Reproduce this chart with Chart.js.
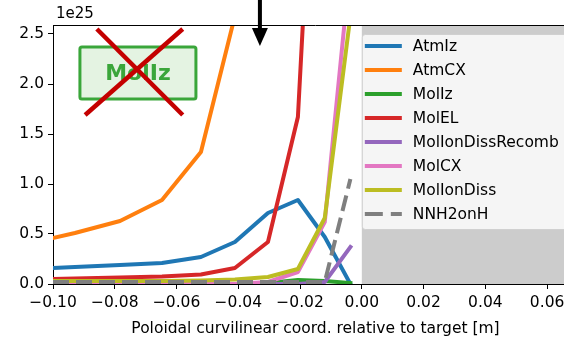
<!DOCTYPE html>
<html>
<head>
<meta charset="utf-8">
<script src="https://cdn.jsdelivr.net/npm/chart.js@4.4.1/dist/chart.umd.min.js"></script>
<style>
  html, body { margin: 0; padding: 0; background: #fff; overflow: hidden; }
  #wrap { width: 600px; height: 338px; }
</style>
</head>
<body>
<div id="wrap"><canvas id="c" width="600" height="338"></canvas></div>
<script>
// Poloidal position of each cell centre relative to the target [m]
const positions = [-0.1, -0.0929, -0.0783, -0.0647, -0.0521, -0.0411, -0.0304, -0.0207, -0.0120, -0.0037];

// Rates, in units of 1e25
const atmIz            = [0.16, 0.17, 0.19, 0.21, 0.27, 0.42, 0.71, 0.84, 0.47, 0.0];
const atmCX            = [0.46, 0.51, 0.63, 0.84, 1.32, 2.68, 5.5, 9.0, 12.0, 14.0];
const molIz            = [0.0, 0.0, 0.0, 0.0, 0.0, 0.0, 0.01, 0.04, 0.03, 0.01];
const molEL            = [0.05, 0.055, 0.065, 0.075, 0.095, 0.16, 0.42, 1.67, 6.7, 9.0];
const molIonDissRecomb = [0.0, 0.0, 0.0, 0.0, 0.0, 0.0, 0.0, 0.0, 0.02, 0.37];
const molCX            = [0.0, 0.0, 0.0, 0.0, 0.0, 0.0, 0.02, 0.12, 0.62, 3.2];
const molIonDiss       = [0.03, 0.03, 0.03, 0.03, 0.035, 0.045, 0.07, 0.15, 0.66, 2.68];
const nnH2onH          = [0.02, 0.02, 0.02, 0.02, 0.02, 0.02, 0.02, 0.02, 0.02, 1.05];

const seriesNames = ['AtmIz', 'AtmCX', 'MolIz', 'MolEL', 'MolIonDissRecomb', 'MolCX', 'MolIonDiss', 'NNH2onH'];
const seriesValues = [atmIz, atmCX, molIz, molEL, molIonDissRecomb, molCX, molIonDiss, nnH2onH];
const seriesColors = ['#1f77b4', '#ff7f0e', '#2ca02c', '#d62728', '#9467bd', '#e377c2', '#bcbd22', '#7f7f7f'];
const seriesDash = [[], [], [], [], [], [], [], [16, 7]];

const xTicks = [-0.10, -0.08, -0.06, -0.04, -0.02, 0.00, 0.02, 0.04, 0.06];
const yTicks = [0.0, 0.5, 1.0, 1.5, 2.0, 2.5];
const X_MIN = -0.1, X_MAX = 0.07, Y_MIN = 0, Y_MAX = 2.59;

// Annotation anchors (data coordinates)
const ARROW_X = -0.033, ARROW_TIP_Y = 2.38;
const BOX_CX = -0.0725, BOX_CY = 2.11;
const CROSS_A = [[-0.0858, 2.55], [-0.0580, 1.69]];
const CROSS_B = [[-0.0580, 2.55], [-0.0896, 1.69]];

const FONT = '"DejaVu Sans", sans-serif';

// later series are painted over earlier ones
const datasets = seriesNames.map((name, i) => ({
  label: name,
  order: seriesNames.length - i,
  data: positions.map((x, j) => ({ x: x, y: seriesValues[i][j] })),
  borderColor: seriesColors[i],
  backgroundColor: seriesColors[i],
  borderWidth: 4,
  borderDash: seriesDash[i],
  borderCapStyle: seriesDash[i].length ? 'butt' : 'square',
  borderJoinStyle: 'round',
  pointRadius: 0,
  tension: 0,
  fill: false,
  clip: 0
}));

const decorations = {
  id: 'decorations',
  beforeDraw(chart) {
    const { ctx, chartArea: a, scales: { x } } = chart;
    ctx.save();
    const x0 = x.getPixelForValue(0);
    ctx.fillStyle = '#cccccc';
    ctx.fillRect(x0, a.top, a.right - x0, a.bottom - a.top);
    ctx.restore();
  },
  afterDraw(chart) {
    const { ctx, chartArea: a, scales: { x, y } } = chart;
    ctx.save();
    // top spine
    ctx.strokeStyle = '#000';
    ctx.lineWidth = 1;
    ctx.beginPath();
    ctx.moveTo(a.left, a.top + 0.5);
    ctx.lineTo(a.right, a.top + 0.5);
    ctx.stroke();

    // offset label
    ctx.fillStyle = '#000';
    ctx.font = '15px ' + FONT;
    ctx.textAlign = 'left';
    ctx.textBaseline = 'middle';
    ctx.fillText('1e25', a.left + 3, 14);

    // legend
    const lx = x.getPixelForValue(0), ly = a.top + 9, lw = 215, lh = 195;
    ctx.fillStyle = 'rgba(255,255,255,0.8)';
    ctx.strokeStyle = 'rgba(204,204,204,0.8)';
    ctx.lineWidth = 1;
    ctx.beginPath();
    ctx.roundRect(lx + 0.5, ly + 0.5, lw, lh, 3);
    ctx.fill();
    ctx.stroke();
    ctx.font = '15.5px ' + FONT;
    ctx.textBaseline = 'middle';
    seriesNames.forEach((name, i) => {
      const ry = ly + 12 + i * 24;
      ctx.strokeStyle = seriesColors[i];
      ctx.lineWidth = 4;
      ctx.lineCap = 'butt';
      ctx.setLineDash(seriesDash[i].length ? [18, 8] : []);
      ctx.beginPath();
      ctx.moveTo(lx + 3, ry);
      ctx.lineTo(lx + 40, ry);
      ctx.stroke();
      ctx.setLineDash([]);
      ctx.fillStyle = '#000';
      ctx.fillText(name, lx + 51, ry + 1);
    });

    // labelled box with a cross over it
    const bx = x.getPixelForValue(BOX_CX), by = y.getPixelForValue(BOX_CY);
    ctx.fillStyle = '#e4f3e2';
    ctx.strokeStyle = '#3aa63a';
    ctx.lineWidth = 3;
    ctx.beginPath();
    ctx.roundRect(bx - 58, by - 26, 116, 52, 2);
    ctx.fill();
    ctx.stroke();
    ctx.fillStyle = '#3aa63a';
    ctx.font = 'bold 22px ' + FONT;
    ctx.textAlign = 'center';
    ctx.textBaseline = 'middle';
    ctx.fillText('MolIz', bx, by + 1);

    ctx.strokeStyle = '#c40000';
    ctx.lineWidth = 4.5;
    ctx.lineCap = 'butt';
    [CROSS_A, CROSS_B].forEach(seg => {
      ctx.beginPath();
      ctx.moveTo(x.getPixelForValue(seg[0][0]), y.getPixelForValue(seg[0][1]));
      ctx.lineTo(x.getPixelForValue(seg[1][0]), y.getPixelForValue(seg[1][1]));
      ctx.stroke();
    });

    // arrow
    const ax = x.getPixelForValue(ARROW_X), tipY = y.getPixelForValue(ARROW_TIP_Y);
    ctx.fillStyle = '#000';
    ctx.fillRect(ax - 2, 0, 4, tipY - 14);
    ctx.beginPath();
    ctx.moveTo(ax - 8, tipY - 18);
    ctx.lineTo(ax + 8, tipY - 18);
    ctx.lineTo(ax, tipY);
    ctx.closePath();
    ctx.fill();
    ctx.restore();
  }
};

new Chart(document.getElementById('c'), {
  type: 'line',
  data: { datasets },
  plugins: [decorations],
  options: {
    responsive: false,
    animation: false,
    devicePixelRatio: 1,
    layout: { padding: { left: 0, top: 25, right: 22, bottom: 0 } },
    plugins: { legend: { display: false }, tooltip: { enabled: false } },
    scales: {
      x: {
        type: 'linear',
        min: X_MIN, max: X_MAX,
        afterBuildTicks(s) { s.ticks = xTicks.map(v => ({ value: v })); },
        afterFit(s) { s.height = 54; },
        grid: { drawOnChartArea: false, drawTicks: true, tickLength: 5, color: '#000', lineWidth: 1 },
        border: { display: true, color: '#000', width: 1 },
        ticks: {
          color: '#000', font: { family: FONT, size: 15.5 }, padding: 5, maxRotation: 0,
          callback: v => (v < 0 ? '\u2212' : '') + Math.abs(v).toFixed(2)
        },
        title: {
          display: true, text: 'Poloidal curvilinear coord. relative to target [m]',
          color: '#000', font: { family: FONT, size: 15.5 }, padding: { top: 0, bottom: 0 }
        }
      },
      y: {
        type: 'linear',
        min: Y_MIN, max: Y_MAX,
        afterBuildTicks(s) { s.ticks = yTicks.map(v => ({ value: v })); },
        afterFit(s) { s.width = 53; },
        grid: { drawOnChartArea: false, drawTicks: true, tickLength: 5, color: '#000', lineWidth: 1 },
        border: { display: true, color: '#000', width: 1 },
        ticks: {
          color: '#000', font: { family: FONT, size: 15.5 }, padding: 4,
          callback: v => v.toFixed(1)
        }
      }
    }
  }
});
</script>
</body>
</html>
